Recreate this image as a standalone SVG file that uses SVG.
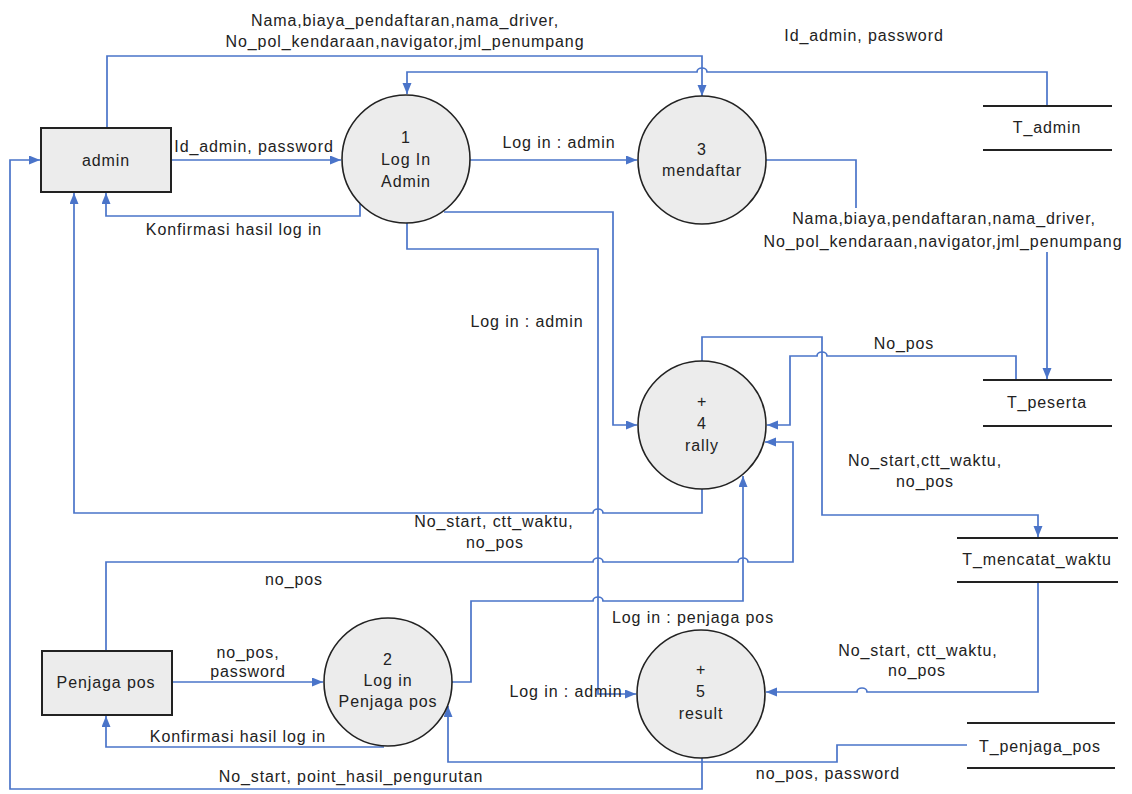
<svg xmlns="http://www.w3.org/2000/svg" width="1132" height="794" viewBox="0 0 1132 794">
  <style>
    text { font-family: "Liberation Sans", Arial, sans-serif; font-size: 16px; fill: #222; letter-spacing: 0.9px; text-anchor: middle; }
    .flow { fill: none; stroke: #4a74c9; stroke-width: 1.7; }
    .entity { fill: #ececec; stroke: #222; stroke-width: 2; }
    .process { fill: #ececec; stroke: #222; stroke-width: 1.6; }
    .store { stroke: #222; stroke-width: 2; }
  </style>
  <defs>
    <marker id="arrow" markerUnits="userSpaceOnUse" markerWidth="12" markerHeight="10" refX="11" refY="4.5" orient="auto">
      <path d="M0,0 L11,4.5 L0,9 z" fill="#4a74c9"/>
    </marker>
  </defs>
  <rect width="1132" height="794" fill="#fff"/>

  <!-- data flows -->
  <g id="connectors">
    <path class="flow" d="M171,160 H341" marker-end="url(#arrow)"/>
    <path class="flow" d="M360,204 V216 H106 V193" marker-end="url(#arrow)"/>
    <path class="flow" d="M107,128 V56 H702 V96" marker-end="url(#arrow)"/>
    <path class="flow" d="M1047,106 V72 H707 a5,4 0 0 0 -10,0 H407 V94" marker-end="url(#arrow)"/>
    <path class="flow" d="M470,160 H637" marker-end="url(#arrow)"/>
    <path class="flow" d="M766,160 H856 V228 H1047 V379" marker-end="url(#arrow)"/>
    <path class="flow" d="M444,212 H613 V425 H637" marker-end="url(#arrow)"/>
    <path class="flow" d="M407,220 V249 H598 V694 H636" marker-end="url(#arrow)"/>
    <path class="flow" d="M702,488 V513 H603 a5,4 0 0 0 -10,0 H74 V193" marker-end="url(#arrow)"/>
    <path class="flow" d="M702,758 V789 H10 V160 H40" marker-end="url(#arrow)"/>
    <path class="flow" d="M702,362 V337 H822 V515 H1038 V537" marker-end="url(#arrow)"/>
    <path class="flow" d="M1016,380 V356 H827 a5,4 0 0 0 -10,0 H790 V425 H767" marker-end="url(#arrow)"/>
    <path class="flow" d="M106,651 V562 H593 a5,4 0 0 1 10,0 H738 a5,4 0 0 1 10,0 H793 V442 H765" marker-end="url(#arrow)"/>
    <path class="flow" d="M450,682 H471 V601 H593 a5,4 0 0 1 10,0 H743 V476" marker-end="url(#arrow)"/>
    <path class="flow" d="M1038,582 V692 H867 a5,4 0 0 0 -10,0 H766" marker-end="url(#arrow)"/>
    <path class="flow" d="M967,745 H837 V762 H448 V706" marker-end="url(#arrow)"/>
    <path class="flow" d="M172,682 H323" marker-end="url(#arrow)"/>
    <path class="flow" d="M384,747 H106 V716" marker-end="url(#arrow)"/>
  </g>

  <!-- external entities -->
  <g id="admin">
    <rect class="entity" x="41" y="128" width="130" height="64"/>
    <text x="106" y="166">admin</text>
  </g>
  <g id="penjaga-pos">
    <rect class="entity" x="42" y="651" width="130" height="64"/>
    <text x="106" y="688">Penjaga pos</text>
  </g>

  <!-- processes -->
  <g id="p1-login-admin">
    <circle class="process" cx="406" cy="159" r="64"/>
    <text x="406" y="143">1</text>
    <text x="406" y="165">Log In</text>
    <text x="406" y="187">Admin</text>
  </g>
  <g id="p3-mendaftar">
    <circle class="process" cx="702" cy="160" r="64"/>
    <text x="702" y="155">3</text>
    <text x="702" y="176">mendaftar</text>
  </g>
  <g id="p4-rally">
    <circle class="process" cx="702" cy="425" r="64"/>
    <text x="702" y="407">+</text>
    <text x="702" y="429">4</text>
    <text x="702" y="451">rally</text>
  </g>
  <g id="p2-login-penjaga">
    <circle class="process" cx="388" cy="682" r="64"/>
    <text x="388" y="665">2</text>
    <text x="388" y="686">Log in</text>
    <text x="388" y="707">Penjaga pos</text>
  </g>
  <g id="p5-result">
    <circle class="process" cx="701" cy="694" r="64"/>
    <text x="701" y="675">+</text>
    <text x="701" y="697">5</text>
    <text x="701" y="719">result</text>
  </g>

  <!-- data stores -->
  <g id="t-admin">
    <line class="store" x1="983" y1="106" x2="1112" y2="106"/>
    <line class="store" x1="983" y1="150" x2="1112" y2="150"/>
    <text x="1047" y="133">T_admin</text>
  </g>
  <g id="t-peserta">
    <line class="store" x1="983" y1="380" x2="1112" y2="380"/>
    <line class="store" x1="983" y1="426" x2="1112" y2="426"/>
    <text x="1047" y="408">T_peserta</text>
  </g>
  <g id="t-mencatat-waktu">
    <line class="store" x1="957" y1="538" x2="1118" y2="538"/>
    <line class="store" x1="957" y1="582" x2="1118" y2="582"/>
    <text x="1037" y="565">T_mencatat_waktu</text>
  </g>
  <g id="t-penjaga-pos">
    <line class="store" x1="967" y1="723" x2="1115" y2="723"/>
    <line class="store" x1="967" y1="768" x2="1115" y2="768"/>
    <text x="1040" y="752">T_penjaga_pos</text>
  </g>

  <!-- flow labels -->
  <g id="flow-labels">
    <text x="405" y="26">Nama,biaya_pendaftaran,nama_driver,</text>
    <text x="405" y="47">No_pol_kendaraan,navigator,jml_penumpang</text>
    <text x="864" y="41">Id_admin, password</text>
    <text x="254" y="152">Id_admin, password</text>
    <text x="234" y="235">Konfirmasi hasil log in</text>
    <text x="559" y="148">Log in : admin</text>
    <rect x="760" y="208" width="368" height="44" fill="#fff"/>
    <text x="944" y="224">Nama,biaya,pendaftaran,nama_driver,</text>
    <text x="943" y="247">No_pol_kendaraan,navigator,jml_penumpang</text>
    <text x="527" y="327">Log in : admin</text>
    <text x="904" y="349">No_pos</text>
    <text x="925" y="466">No_start,ctt_waktu,</text>
    <text x="925" y="487">no_pos</text>
    <text x="494" y="527">No_start, ctt_waktu,</text>
    <text x="495" y="548">no_pos</text>
    <text x="294" y="585">no_pos</text>
    <text x="693" y="623">Log in : penjaga pos</text>
    <text x="248" y="658">no_pos,</text>
    <text x="248" y="677">password</text>
    <text x="918" y="656">No_start, ctt_waktu,</text>
    <text x="917" y="676">no_pos</text>
    <text x="566" y="697">Log in : admin</text>
    <text x="238" y="742">Konfirmasi hasil log in</text>
    <text x="828" y="779">no_pos, password</text>
    <text x="351" y="782">No_start, point_hasil_pengurutan</text>
  </g>
</svg>
